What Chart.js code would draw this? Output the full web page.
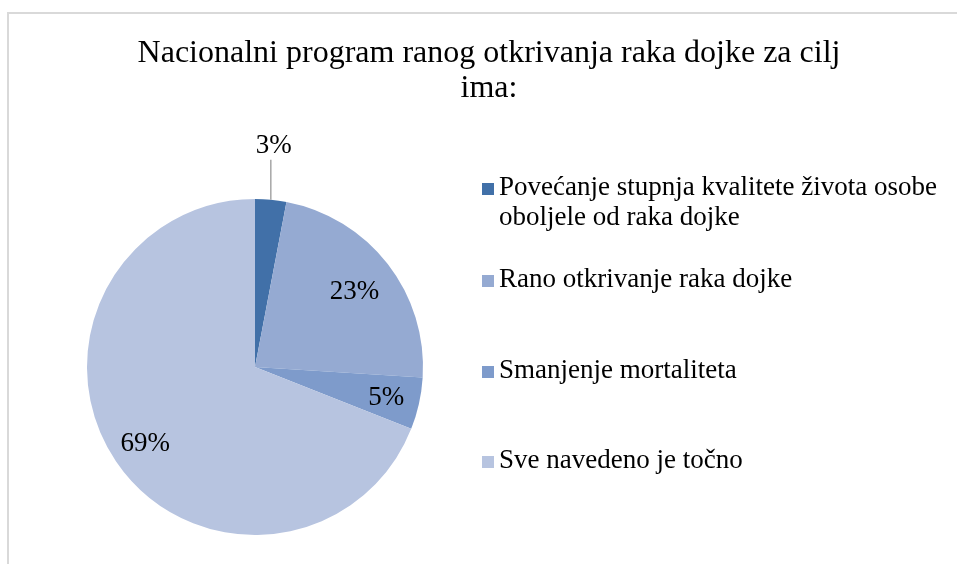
<!DOCTYPE html>
<html>
<head>
<meta charset="utf-8">
<script src="https://cdn.jsdelivr.net/npm/chart.js@4.4.0/dist/chart.umd.min.js"></script>
<style>
  html, body { margin: 0; padding: 0; background: #fff; overflow: hidden; }
  #okvir {
    position: absolute; left: 7px; top: 12px;
    width: 960px; height: 560px;
    border-left: 2px solid #d9d9d9; border-top: 2px solid #d9d9d9;
  }
  canvas { display: block; }
</style>
</head>
<body>
<div id="okvir"><canvas id="grafikon" width="960" height="560"></canvas></div>
<script>
const naslov = ["Nacionalni program ranog otkrivanja raka dojke za cilj", "ima:"];
const kategorije = [
  "Povećanje stupnja kvalitete života osobe oboljele od raka dojke",
  "Rano otkrivanje raka dojke",
  "Smanjenje mortaliteta",
  "Sve navedeno je točno"
];
const postoci = [3, 23, 5, 69];
const boje = ["#4170a8", "#95aad2", "#7e9bcb", "#b7c4e0"];

// raspored legende i oznaka (px u canvasu)
const legendaY = [181, 273, 364, 454];
const oznakaFaktor = [1, 0.75, 0.80, 0.79];

function prelomi(ctx, tekst, maxSirina) {
  const rijeci = tekst.split(" ");
  const redovi = [];
  let red = "";
  rijeci.forEach((r) => {
    const probni = red ? red + " " + r : r;
    if (ctx.measureText(probni).width > maxSirina && red) {
      redovi.push(red);
      red = r;
    } else {
      red = probni;
    }
  });
  if (red) redovi.push(red);
  return redovi;
}

const naslovPlugin = {
  id: "naslov",
  afterDraw(chart) {
    const ctx = chart.ctx;
    ctx.save();
    ctx.font = "32px 'Liberation Serif'";
    ctx.fillStyle = "#000";
    ctx.textAlign = "center";
    ctx.textBaseline = "alphabetic";
    naslov.forEach((red, i) => ctx.fillText(red, chart.width / 2, 48 + i * 35));
    ctx.restore();
  }
};

const legendaPlugin = {
  id: "legenda",
  afterDraw(chart) {
    const ctx = chart.ctx;
    const ds = chart.data.datasets[0];
    ctx.save();
    ctx.font = "27px 'Liberation Serif'";
    ctx.textBaseline = "alphabetic";
    chart.data.labels.forEach((lbl, i) => {
      const y = legendaY[i];
      ctx.fillStyle = ds.backgroundColor[i];
      ctx.fillRect(473, y - 12, 12, 12);
      ctx.fillStyle = "#000";
      prelomi(ctx, lbl, 452).forEach((red, j) => ctx.fillText(red, 490, y + j * 30));
    });
    ctx.restore();
  }
};

const oznakePlugin = {
  id: "oznake",
  afterDraw(chart) {
    const ctx = chart.ctx;
    const meta = chart.getDatasetMeta(0);
    const vrijednosti = chart.data.datasets[0].data;
    ctx.save();
    ctx.font = "27px 'Liberation Serif'";
    ctx.fillStyle = "#000";
    ctx.textAlign = "center";
    ctx.textBaseline = "alphabetic";
    meta.data.forEach((luk, i) => {
      const sred = (luk.startAngle + luk.endAngle) / 2;
      const tekst = vrijednosti[i] + "%";
      if (i === 0) {
        const px = luk.x + Math.cos(sred) * luk.outerRadius;
        const py = luk.y + Math.sin(sred) * luk.outerRadius;
        ctx.strokeStyle = "#a6a6a6";
        ctx.lineWidth = 1.5;
        ctx.beginPath();
        ctx.moveTo(px, py);
        ctx.lineTo(px, py - 40);
        ctx.stroke();
        ctx.fillText(tekst, px + 3, py - 47);
      } else {
        const r = luk.outerRadius * oznakaFaktor[i];
        ctx.fillText(tekst, luk.x + Math.cos(sred) * r, luk.y + Math.sin(sred) * r + 9);
      }
    });
    ctx.restore();
  }
};

document.addEventListener("DOMContentLoaded", () => {
  const platno = document.getElementById("grafikon");
  new Chart(platno.getContext("2d"), {
    type: "pie",
    data: {
      labels: kategorije,
      datasets: [
        {
          data: postoci,
          backgroundColor: boje,
          borderWidth: 0
        }
      ]
    },
    options: {
      responsive: false,
      animation: false,
      layout: { padding: { left: 78, top: 185, right: 546, bottom: 39 } },
      plugins: {
        legend: { display: false },
        title: { display: false },
        tooltip: { enabled: false }
      }
    },
    plugins: [naslovPlugin, legendaPlugin, oznakePlugin]
  });
});
</script>
</body>
</html>
